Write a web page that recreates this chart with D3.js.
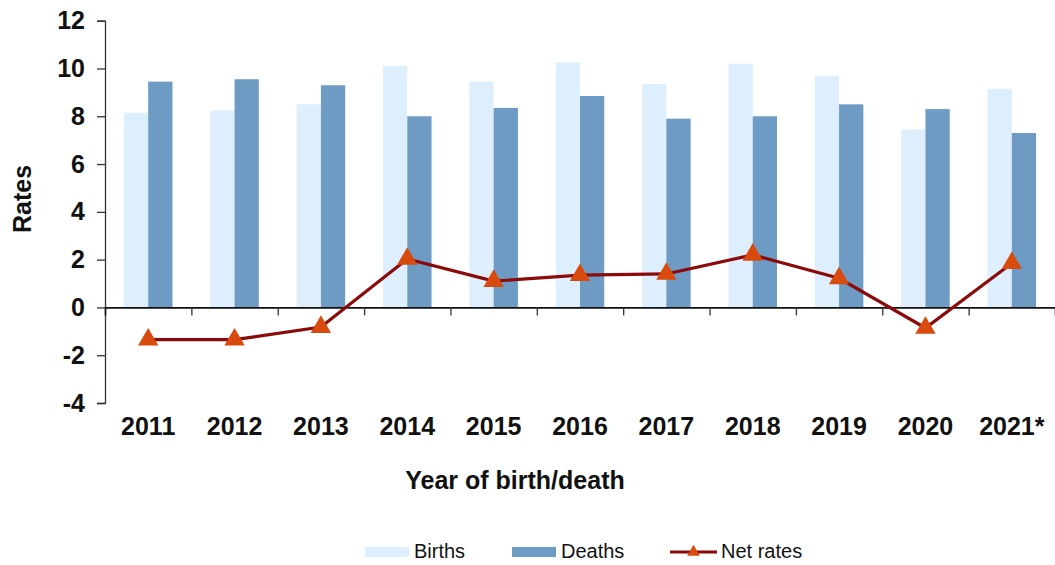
<!DOCTYPE html>
<html>
<head>
<meta charset="utf-8">
<script src="https://cdn.jsdelivr.net/npm/d3@7"></script>
<style>
  body { margin: 0; background: #fff; }
  svg { display: block; font-family: "Liberation Sans", Arial, sans-serif; }
  .tick-label { font-size: 25px; font-weight: bold; fill: #111; }
  .axis-title { font-size: 25px; font-weight: bold; fill: #111; }
  .legend-label { font-size: 20px; fill: #111; }
</style>
</head>
<body>
<div id="chart"></div>
<script>
// values
var years = ['2011', '2012', '2013', '2014', '2015', '2016', '2017', '2018', '2019', '2020', '2021*'];
var births = [8.15, 8.25, 8.5, 10.1, 9.45, 10.25, 9.35, 10.2, 9.7, 7.45, 9.15];
var deaths = [9.45, 9.55, 9.3, 8.0, 8.35, 8.85, 7.9, 8.0, 8.5, 8.3, 7.3];
var netRates = [-1.35, -1.35, -0.82, 2.03, 1.1, 1.35, 1.4, 2.2, 1.22, -0.86, 1.85];
var yTicks = [-4, -2, 0, 2, 4, 6, 8, 10, 12];
var seriesNames = ['Births', 'Deaths', 'Net rates'];

var colors = {'Births': '#ddeefd', 'Deaths': '#6d9bc4', 'line': '#8b0b0b', 'marker': '#d84a0e'};

var width = 1055, height = 565;
var plot = {left: 105, right: 1055, top: 20.7, bottom: 403};

var svg = d3.select('#chart').append('svg')
  .attr('width', width)
  .attr('height', height);

var x = d3.scaleBand()
  .domain(years)
  .range([plot.left, plot.right])
  .padding(0);

var xSub = d3.scaleBand()
  .domain(['Births', 'Deaths'])
  .range([0, x.bandwidth()])
  .paddingInner(0)
  .paddingOuter(0.78);

var y = d3.scaleLinear()
  .domain([-4, 12])
  .range([plot.bottom, plot.top]);

// bars
var rows = years.map(function(yr, i) {
  return {year: yr, Births: births[i], Deaths: deaths[i], net: netRates[i]};
});

var groups = svg.selectAll('.bar-group')
    .data(rows)
  .enter().append('g')
    .attr('class', 'bar-group')
    .attr('transform', function(d) { return 'translate(' + x(d.year) + ',0)'; });

groups.selectAll('rect')
    .data(function(d) { return ['Births', 'Deaths'].map(function(k) { return {key: k, value: d[k]}; }); })
  .enter().append('rect')
    .attr('x', function(d) { return xSub(d.key); })
    .attr('y', function(d) { return y(d.value); })
    .attr('width', xSub.bandwidth())
    .attr('height', function(d) { return y(0) - y(d.value); })
    .attr('fill', function(d) { return colors[d.key]; });

// y axis (plain hyphen for negatives, like the original)
var yAxis = svg.append('g')
  .attr('transform', 'translate(' + plot.left + ',0)')
  .call(d3.axisLeft(y).tickValues(yTicks).tickSize(8).tickPadding(12)
    .tickFormat(function(d) { return String(d); }));
yAxis.select('.domain').attr('stroke', '#333').attr('stroke-width', 1.3);
yAxis.selectAll('.tick line').attr('stroke', '#333').attr('stroke-width', 1.3);
yAxis.selectAll('.tick text').attr('class', 'tick-label').attr('font-size', null).attr('font-family', null);

// x axis at zero, tick marks between categories
var xIdx = d3.scaleLinear().domain([0, years.length]).range([plot.left, plot.right]);
var xAxis = svg.append('g')
  .attr('transform', 'translate(0,' + y(0) + ')')
  .call(d3.axisBottom(xIdx).tickValues(d3.range(1, years.length)).tickSize(8).tickFormat(''));
xAxis.select('.domain').attr('stroke', '#111').attr('stroke-width', 1.6);
xAxis.selectAll('.tick line').attr('stroke', '#333').attr('stroke-width', 1.3);

// category labels at the bottom of the plot
var xLabels = svg.append('g')
  .attr('transform', 'translate(0,' + plot.bottom + ')')
  .call(d3.axisBottom(x).tickSize(0).tickPadding(14));
xLabels.select('.domain').remove();
xLabels.selectAll('.tick text').attr('class', 'tick-label').attr('font-size', null).attr('font-family', null);

// net rate line + markers
var line = d3.line()
  .x(function(d) { return x(d.year) + x.bandwidth() / 2; })
  .y(function(d) { return y(d.net); });

svg.append('path')
  .datum(rows)
  .attr('d', line)
  .attr('fill', 'none')
  .attr('stroke', colors.line)
  .attr('stroke-width', 3.2);

var tri = d3.symbol().type(d3.symbolTriangle).size(180);
svg.selectAll('.marker')
    .data(rows)
  .enter().append('path')
    .attr('class', 'marker')
    .attr('d', tri)
    .attr('fill', colors.marker)
    .attr('transform', function(d) { return 'translate(' + (x(d.year) + x.bandwidth() / 2) + ',' + y(d.net) + ')'; });

// axis titles
svg.append('text')
  .attr('class', 'axis-title')
  .attr('text-anchor', 'middle')
  .attr('transform', 'translate(31,199) rotate(-90)')
  .text('Rates');

svg.append('text')
  .attr('class', 'axis-title')
  .attr('text-anchor', 'middle')
  .attr('x', 515)
  .attr('y', 489)
  .text('Year of birth/death');

// legend
var legendItems = [
  {name: seriesNames[0], x: 365, type: 'rect', color: colors.Births},
  {name: seriesNames[1], x: 512, type: 'rect', color: colors.Deaths},
  {name: seriesNames[2], x: 670, type: 'line', color: colors.line}
];
var legend = svg.append('g').attr('transform', 'translate(0,552)');
legendItems.forEach(function(item) {
  var g = legend.append('g').attr('transform', 'translate(' + item.x + ',0)');
  if (item.type == 'rect') {
    g.append('rect').attr('x', 0).attr('y', -5).attr('width', 44).attr('height', 10).attr('fill', item.color);
    g.append('text').attr('class', 'legend-label').attr('x', 49).attr('y', 6).text(item.name);
  } else {
    g.append('line').attr('x1', 0).attr('x2', 47).attr('y1', 0).attr('y2', 0)
      .attr('stroke', item.color).attr('stroke-width', 3);
    g.append('path').attr('d', d3.symbol().type(d3.symbolTriangle).size(70))
      .attr('fill', colors.marker).attr('transform', 'translate(23.5,0)');
    g.append('text').attr('class', 'legend-label').attr('x', 51).attr('y', 6).text(item.name);
  }
});
</script>
</body>
</html>
